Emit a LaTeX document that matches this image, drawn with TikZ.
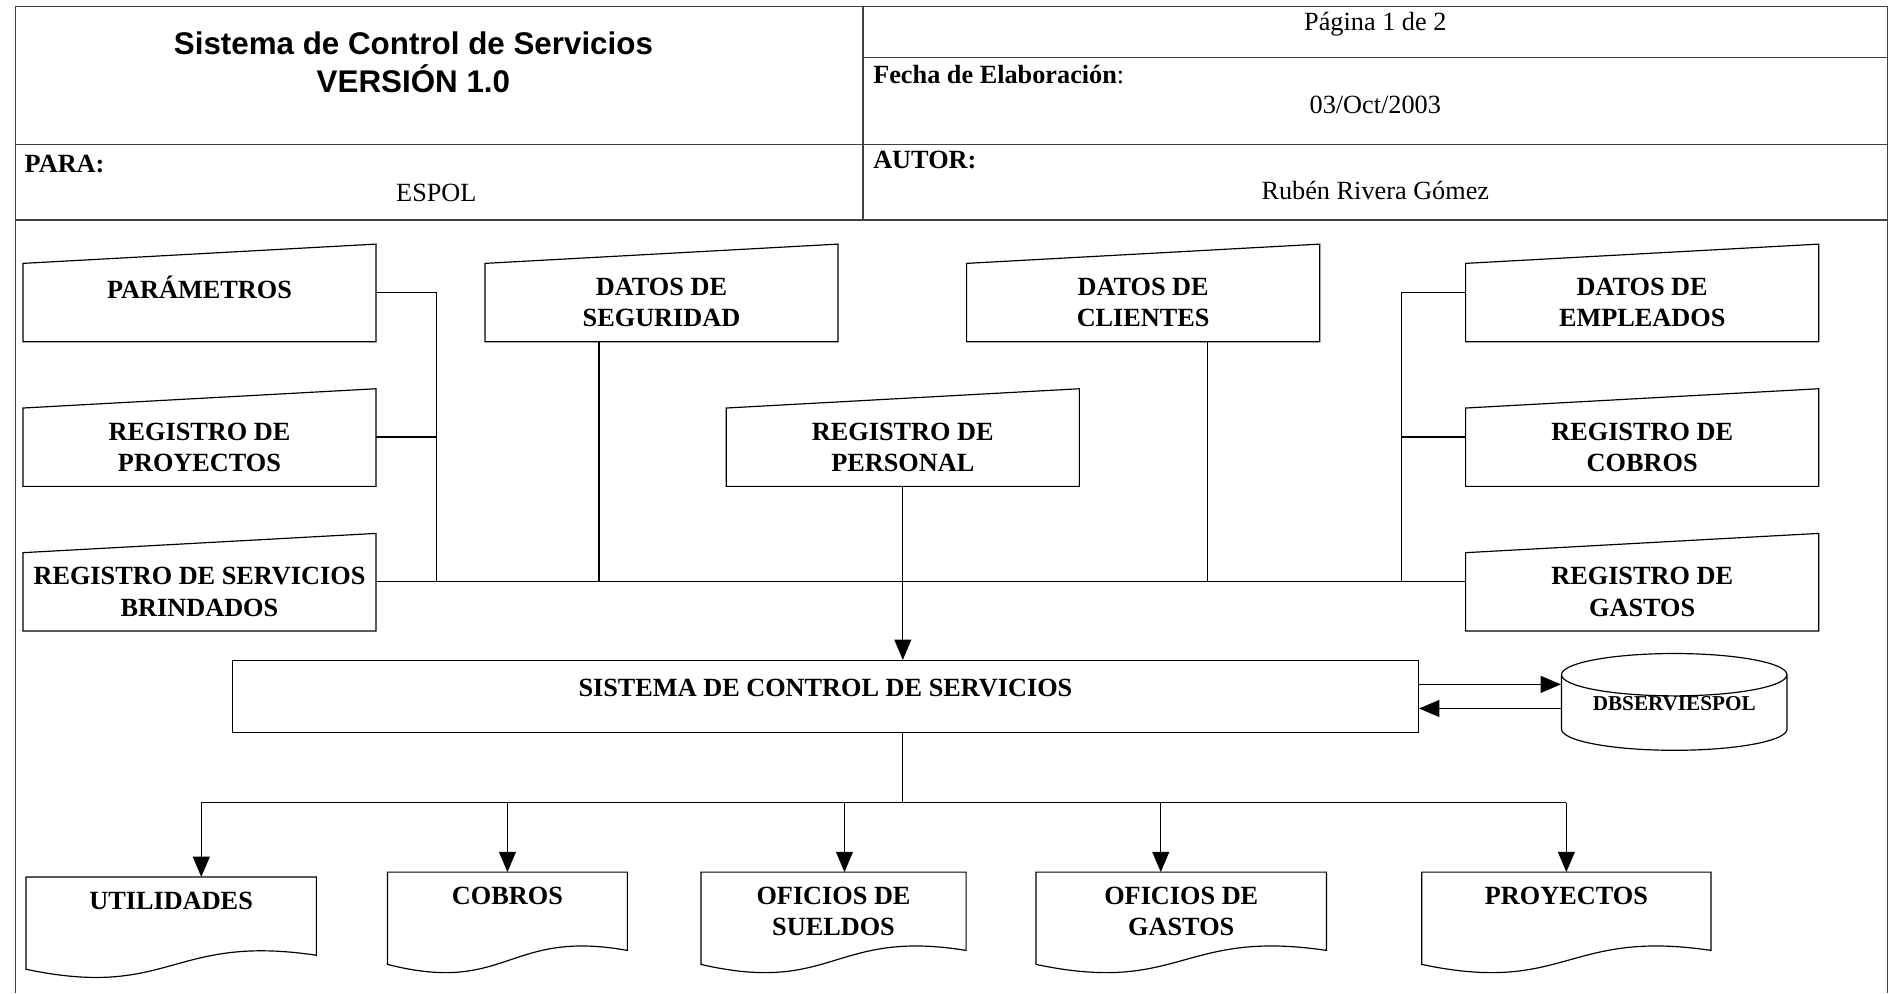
\documentclass[tikz,border=0pt]{standalone}
\usepackage{fontspec}
\setmainfont{Liberation Serif}
\newfontfamily\titulofont{Liberation Sans}
\usetikzlibrary{arrows.meta, shapes.geometric, calc, positioning}

\begin{document}
\begin{tikzpicture}[
    >={Triangle[length=12pt,width=10pt]},
    line width=0.7pt,
    caja/.style={inner sep=0pt, align=center, font=\fontsize{15.5}{18.5}\selectfont\bfseries},
    entrada/.style={caja, minimum width=7.3cm, minimum height=1.6cm},
    reporte/.style={caja, minimum height=1.6cm},
    texto/.style={inner sep=0pt, font=\fontsize{15.5}{18}\selectfont}
  ]
  \useasboundingbox (0,0) rectangle (39.2,-20.6);

  % encabezado
  \draw[black!75] (0.325,-20.6) -- (0.325,-0.14) -- (39.14,-0.14) -- (39.14,-20.6);
  \draw[black!75]
    (0.325,-3) -- (39.14,-3)
    (0.325,-4.5625) -- (39.14,-4.5625)
    (17.9,-0.14) -- (17.9,-4.5625)
    (17.9,-1.19) -- (39.14,-1.19);

  \node[align=center, font=\titulofont\fontsize{18.5}{22}\selectfont\bfseries] (titulo) at (8.575,-1.29) {Sistema de Control de Servicios\\VERSIÓN 1.0};
  \node[texto] (pagina) at (28.525,-0.5) {Página 1 de 2};
  \node[texto, anchor=west] (fecha) at (18.1,-1.55) {\textbf{Fecha de Elaboración}:};
  \node[texto] (dia) at (28.525,-2.175) {03/Oct/2003};
  \node[texto, anchor=west, font=\fontsize{15.5}{18}\selectfont\bfseries] (para) at (0.5,-3.4) {PARA:};
  \node[texto] (espol) at (9.05,-4.0) {ESPOL};
  \node[texto, anchor=west, font=\fontsize{15.5}{18}\selectfont\bfseries] (autor) at (18.1,-3.325) {AUTOR:};
  \node[texto] (nombre) at (28.525,-3.95) {Rubén Rivera Gómez};

  % entradas
  \node[entrada] (par) at (4.1375,-6.275) {PARÁMETROS\\~};
  \node[entrada] (rproy) at (4.1375,-9.275) {REGISTRO DE\\PROYECTOS};
  \node[entrada] (rserv) at (4.1375,-12.275) {REGISTRO DE SERVICIOS\\BRINDADOS};
  \node[entrada] (dseg) at (13.72,-6.275) {DATOS DE\\SEGURIDAD};
  \node[entrada] (rpers) at (18.725,-9.275) {REGISTRO DE\\PERSONAL};
  \node[entrada] (dcli) at (23.71,-6.275) {DATOS DE\\CLIENTES};
  \node[entrada] (demp) at (34.06,-6.275) {DATOS DE\\EMPLEADOS};
  \node[entrada] (rcob) at (34.06,-9.275) {REGISTRO DE\\COBROS};
  \node[entrada] (rgas) at (34.06,-12.275) {REGISTRO DE\\GASTOS};

  \foreach \n in {par,rproy,rserv,dseg,rpers,dcli,demp,rcob,rgas}
    \draw (\n.south west) -- (\n.south east) -- ($(\n.north east)+(0,0.4)$) -- (\n.north west) -- cycle;

  \coordinate (izq) at (9.06,-12.065);
  \coordinate (der) at (29.075,-12.065);

  \draw ([yshift=0.21cm]par.east) -| (izq);
  \draw ([yshift=0.21cm]rproy.east) -- ([yshift=0.21cm]rproy.east -| izq);
  \draw ([yshift=0.21cm]rserv.east) -- ([yshift=0.21cm]rgas.west);
  \draw ([yshift=0.21cm]demp.west) -| (der);
  \draw ([yshift=0.21cm]rcob.west) -- ([yshift=0.21cm]rcob.west -| der);
  \draw ([xshift=-1.295cm]dseg.south) -- ([xshift=-1.295cm]dseg.south |- izq);
  \draw ([xshift=1.34cm]dcli.south) -- ([xshift=1.34cm]dcli.south |- izq);

  % sistema y base de datos
  \node[caja, draw, minimum width=24.6cm, minimum height=1.49cm, text depth=10pt] (sis) at (17.12,-14.444) {SISTEMA DE CONTROL DE SERVICIOS};
  \node[draw, cylinder, shape border rotate=90, aspect=0.26, minimum width=4.675cm, minimum height=1.985cm,
        inner sep=0pt, text depth=11pt, anchor=shape center,
        font=\fontsize{12.5}{14}\selectfont\bfseries] (bd) at (34.725,-14.558) {DBSERVIESPOL};

  \draw[->] (rpers.south) -- (rpers.south |- sis.north);
  \draw[->] ([yshift=0.25cm]sis.east) -- ([yshift=0.25cm]sis.east -| bd.west);
  \draw[->] ([yshift=-0.25cm]sis.east -| bd.west) -- ([yshift=-0.25cm]sis.east);

  % salidas
  \node[reporte, minimum width=6cm] (uti) at (3.55,-19.0) {UTILIDADES\\~};
  \node[reporte, minimum width=4.95cm] (cob) at (10.525,-18.9) {COBROS\\~};
  \node[reporte, minimum width=5.475cm] (ofsue) at (17.2875,-18.9) {OFICIOS DE\\SUELDOS};
  \node[reporte, minimum width=6cm] (ofgas) at (24.5,-18.9) {OFICIOS DE\\GASTOS};
  \node[reporte, minimum width=5.975cm] (proy) at (32.4875,-18.9) {PROYECTOS\\~};

  \foreach \n in {uti,cob,ofsue,ofgas,proy}
    \draw (\n.north west) -- (\n.north east) -- (\n.south east)
      .. controls ($(\n.south)+(0,0.45)$) and ($(\n.south)+(0,-0.925)$) .. ($(\n.south west)+(0,-0.29)$) -- cycle;

  \coordinate (sal) at (18.725,-16.65);
  \draw (rpers.south |- sis.south) -- (sal);
  \draw ([xshift=0.625cm]uti.north |- sal) -- (proy.north |- sal);
  \foreach \n/\dx in {uti/0.625, cob/0, ofsue/0.2275, ofgas/-0.425, proy/0}
    \draw[->] ([xshift=\dx cm]\n.north |- sal) -- ([xshift=\dx cm]\n.north);
\end{tikzpicture}
\end{document}
